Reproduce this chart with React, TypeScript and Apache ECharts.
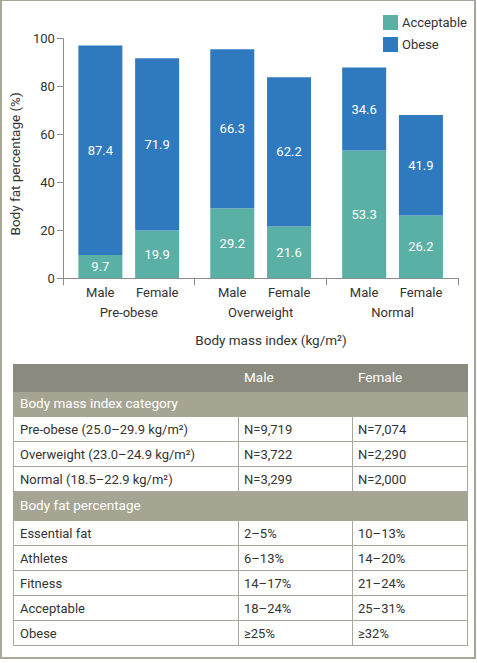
import React, { useEffect, useRef } from "react";
import * as echarts from "echarts";

const categories = ["Pre-obese", "Overweight", "Normal"];
const genders = ["Male", "Female"];
const maleAcceptable = [9.7, 29.2, 53.3];
const maleObese = [87.4, 66.3, 34.6];
const femaleAcceptable = [19.9, 21.6, 26.2];
const femaleObese = [71.9, 62.2, 41.9];
const yTicks = [0, 20, 40, 60, 80, 100];

const tableHeader = ["", "Male", "Female"];
const bmiSection = "Body mass index category";
const bmiRows = [
  ["Pre-obese (25.0–29.9 kg/m²)", "N=9,719", "N=7,074"],
  ["Overweight (23.0–24.9 kg/m²)", "N=3,722", "N=2,290"],
  ["Normal (18.5–22.9 kg/m²)", "N=3,299", "N=2,000"],
];
const fatSection = "Body fat percentage";
const fatRows = [
  ["Essential fat", "2–5%", "10–13%"],
  ["Athletes", "6–13%", "14–20%"],
  ["Fitness", "14–17%", "21–24%"],
  ["Acceptable", "18–24%", "25–31%"],
  ["Obese", "≥25%", "≥32%"],
];

const FONT = "Roboto, 'Open Sans', sans-serif";
const TEAL = "#5bb0a5";
const BLUE = "#2f79be";
const TEXT = "#333333";
const AXIS = "#8c8c8c";
const HEAD = "#8a8a7f";
const SUB = "#a6a594";
const GRID = "#a9a898";

function Chart() {
  const ref = useRef<HTMLDivElement>(null);
  useEffect(() => {
    if (!ref.current) return;
    const chart = echarts.init(ref.current, undefined, { renderer: "svg" });
    const label = {
      show: true,
      position: "inside",
      color: "#ffffff",
      fontSize: 13,
      fontFamily: FONT,
    };
    const bar = (name: string, stack: string, data: number[], color: string) => ({
      type: "bar",
      name,
      stack,
      data,
      barWidth: 44,
      barGap: "29%",
      itemStyle: { color },
      label,
    });
    chart.setOption({
      animation: false,
      textStyle: { fontFamily: FONT },
      grid: { left: 62, top: 38.5, width: 396.5, height: 239.8 },
      legend: {
        data: ["Acceptable", "Obese"],
        orient: "vertical",
        left: 383,
        top: 15,
        padding: 0,
        itemWidth: 15,
        itemHeight: 15,
        itemGap: 7,
        icon: "rect",
        textStyle: { color: TEXT, fontSize: 13, fontFamily: FONT, padding: [0, 0, 0, -1] },
      },
      xAxis: {
        type: "category",
        data: categories,
        axisLine: { lineStyle: { color: AXIS, width: 1 } },
        axisTick: { show: true, length: 7, lineStyle: { color: AXIS } },
        axisLabel: {
          margin: 5,
          color: TEXT,
          interval: 0,
          formatter: (v: string) => `{m|${genders[0]}}{f|${genders[1]}}\n{g|${v}}`,
          rich: {
            m: { width: 57, align: "center", fontSize: 13, lineHeight: 19, color: TEXT, fontFamily: FONT },
            f: { width: 57, align: "center", fontSize: 13, lineHeight: 19, color: TEXT, fontFamily: FONT },
            g: { fontSize: 13, lineHeight: 20, color: TEXT, fontFamily: FONT },
          },
        },
      },
      yAxis: {
        type: "value",
        min: yTicks[0],
        max: yTicks[yTicks.length - 1],
        interval: 20,
        name: "Body fat percentage (%)",
        nameLocation: "middle",
        nameGap: 38,
        nameTextStyle: { color: TEXT, fontSize: 13.5, fontFamily: FONT, padding: [0, 11, 0, 0] },
        axisLine: { show: true, lineStyle: { color: AXIS, width: 1 } },
        axisTick: { show: true, length: 6, lineStyle: { color: AXIS } },
        axisLabel: { color: TEXT, fontSize: 13, margin: 8, fontFamily: FONT },
        splitLine: { show: false },
      },
      series: [
        bar("Acceptable", "male", maleAcceptable, TEAL),
        bar("Obese", "male", maleObese, BLUE),
        bar("Acceptable", "female", femaleAcceptable, TEAL),
        bar("Obese", "female", femaleObese, BLUE),
      ],
      graphic: [
        {
          type: "text",
          x: 271,
          y: 340,
          style: {
            text: "Body mass index (kg/m²)",
            textAlign: "center",
            textVerticalAlign: "middle",
            align: "center",
            verticalAlign: "middle",
            fill: TEXT,
            fontSize: 13.5,
            fontFamily: FONT,
          },
        },
      ],
    });
    return () => chart.dispose();
  }, []);
  return <div ref={ref} style={{ position: "absolute", left: 0, top: 0, width: 477, height: 360 }} />;
}

const cellBase: React.CSSProperties = {
  padding: "0 0 0 5px",
  fontFamily: FONT,
  fontSize: 13,
  color: TEXT,
  verticalAlign: "middle",
  whiteSpace: "nowrap",
  lineHeight: "1",
};

function DataRow({ row }: { row: string[] }) {
  return (
    <tr style={{ height: 25, background: "#ffffff" }}>
      {row.map((c, i) => (
        <td
          key={i}
          style={{
            ...cellBase,
            paddingLeft: i === 0 ? 6 : 5,
            border: `1px solid ${GRID}`,
          }}
        >
          {c}
        </td>
      ))}
    </tr>
  );
}

function SectionRow({ text, height }: { text: string; height: number }) {
  return (
    <tr style={{ height, background: SUB }}>
      <td colSpan={3} style={{ ...cellBase, fontSize: 13.5, paddingLeft: 6, color: "#ffffff", border: `1px solid ${SUB}` }}>
        {text}
      </td>
    </tr>
  );
}

function Table() {
  return (
    <table
      style={{
        position: "absolute",
        left: 13,
        top: 364,
        width: 454,
        borderCollapse: "collapse",
        tableLayout: "fixed",
      }}
    >
      <colgroup>
        <col style={{ width: 225 }} />
        <col style={{ width: 114 }} />
        <col style={{ width: 115 }} />
      </colgroup>
      <tbody>
        <tr style={{ height: 27, background: HEAD }}>
          {tableHeader.map((h, i) => (
            <td
              key={i}
              style={{
                ...cellBase,
                fontSize: 13.5,
                color: "#ffffff",
                border: `1px solid ${HEAD}`,
                borderLeft: i > 0 ? "1px solid #b4b4aa" : `1px solid ${HEAD}`,
              }}
            >
              {h}
            </td>
          ))}
        </tr>
        <SectionRow text={bmiSection} height={25} />
        {bmiRows.map((r, i) => (
          <DataRow key={"b" + i} row={r} />
        ))}
        <SectionRow text={fatSection} height={29} />
        {fatRows.map((r, i) => (
          <DataRow key={"f" + i} row={r} />
        ))}
      </tbody>
    </table>
  );
}

export default function App() {
  useEffect(() => {
    document.body.style.margin = "0";
  }, []);
  return (
    <div style={{ position: "relative", width: 477, height: 663, background: "#ffffff", overflow: "hidden" }}>
      <Chart />
      <Table />
      <div
        style={{
          position: "absolute",
          left: 0,
          top: 0,
          width: 476,
          height: 659,
          boxSizing: "border-box",
          border: `2px solid ${GRID}`,
          borderTopWidth: 1,
          pointerEvents: "none",
        }}
      />
    </div>
  );
}
